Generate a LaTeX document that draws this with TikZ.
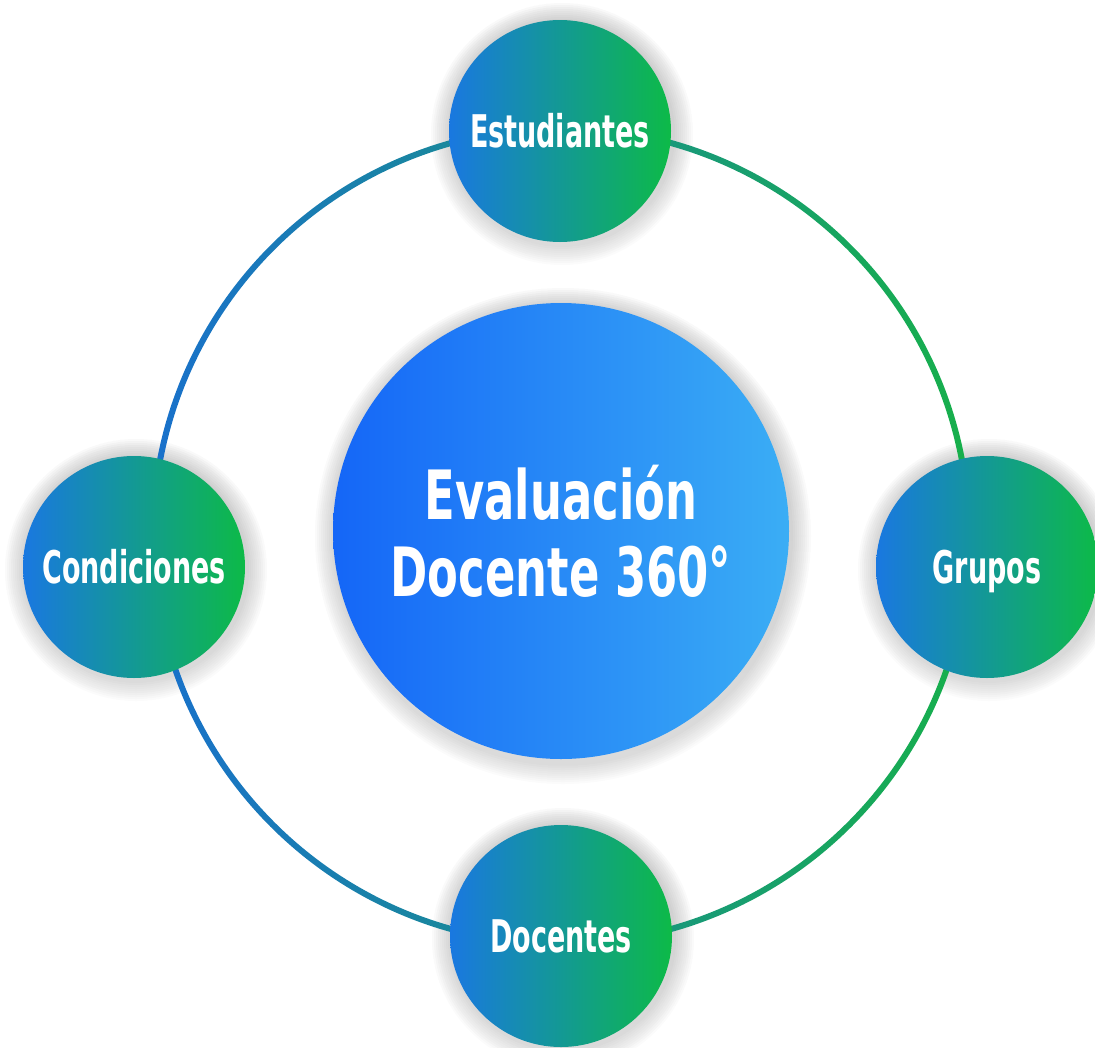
\documentclass[tikz,border=0pt]{standalone}
\usepackage{fontspec}
\usepackage{tikz}
\newfontfamily\labelfont[FakeStretch=0.6]{DejaVu Sans}
\newfontfamily\corefont[FakeStretch=0.66]{DejaVu Sans}
\definecolor{nblue}{rgb}{0.10, 0.47, 0.88}
\definecolor{ngreen}{rgb}{0.05, 0.73, 0.28}
\definecolor{cblue}{rgb}{0.08, 0.40, 0.97}
\definecolor{clight}{rgb}{0.23, 0.68, 0.96}
\definecolor{rblue}{rgb}{0.10, 0.44, 0.80}
\definecolor{rgreen}{rgb}{0.09, 0.69, 0.29}
\definecolor{shade}{rgb}{0.62, 0.57, 0.50}
\tikzset{topic/.style = {circle, inner sep = 0, minimum size = 222,
    left color = nblue, right color = ngreen, text = white,
    font = \labelfont\bfseries\fontsize{45}{50}\selectfont,
    text height = 33pt, text depth = 0pt}}
\tikzset{core/.style = {circle, inner sep = 0, minimum size = 456,
    left color = cblue, right color = clight, text = white, align = center,
    font = \corefont\bfseries\fontsize{68}{77}\selectfont}}

\begin{document}
\begin{tikzpicture}[x = 1pt, y = -1pt]
    \useasboundingbox (0, 0) rectangle (1095, 1047);
    \coordinate (ringc) at (561, 536);

    % soft shadows
    \foreach \x/\y/\r in {561/533/228, 560/131/111, 134/567/111, 987/567/111, 561/936/111} {
      \foreach \k in {1, ..., 10} {
        \fill [shade, opacity = 0.014] (\x + 2, \y + 3) circle (\r + 2*\k);
      }
    }

    \shade [left color = rblue, right color = rgreen, even odd rule]
      (ringc) circle (411) circle (405);

    \node [core] (eval) at (561, 531) {Evaluación\\Docente 360°};
    \node [topic] (estud) at (560, 131) {Estudiantes};
    \node [topic] (cond) at (134, 567) {Condiciones};
    \node [topic] (grupos) at (987, 567) {Grupos};
    \node [topic] (docen) at (561, 936) {Docentes};
  \end{tikzpicture}
\end{document}
